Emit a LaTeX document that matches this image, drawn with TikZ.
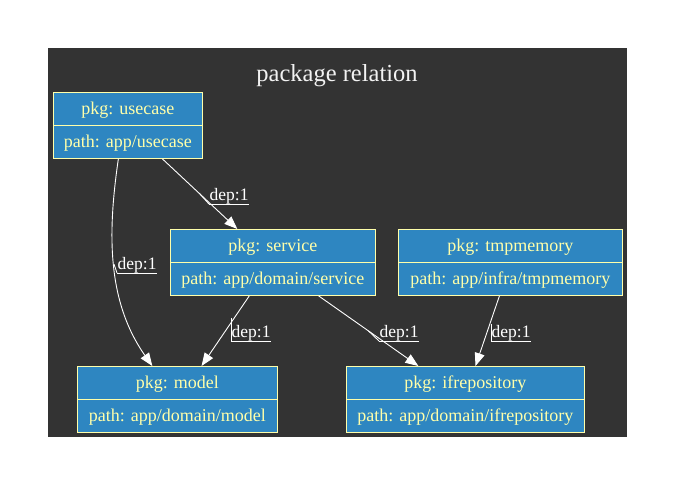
\documentclass[tikz,border=0pt]{standalone}
\usepackage{fontspec}
\setmainfont{Liberation Serif}
\usetikzlibrary{arrows.meta,calc}
\definecolor{bgc}{HTML}{333333}
\definecolor{pkgfill}{HTML}{2E86C1}
\definecolor{pkgline}{HTML}{FFFFAA}
\definecolor{pkgtext}{HTML}{FFFFAA}
\definecolor{titlec}{HTML}{F2F2F2}
\begin{document}
\begin{tikzpicture}[x=1pt,y=-1pt,
  pkgpart/.style={draw=pkgline, fill=pkgfill, line width=0.9pt, text=pkgtext,
    font=\fontsize{18}{20}\selectfont, minimum height=33pt, inner sep=0pt,
    text height=13.5pt, text depth=1.5pt, anchor=north west},
  dep/.style={draw=white, line width=0.9pt, -{Triangle[length=13pt,width=10pt]}},
  lbl/.style={text=white, font=\fontsize{17.5}{20}\selectfont, inner xsep=0.5pt, inner ysep=0pt, anchor=base west},
  uline/.style={draw=white, line width=0.9pt}]
\useasboundingbox (0,0) rectangle (675,485);
\fill[white] (0,0) rectangle (675,485);
\fill[bgc] (48,48) rectangle (627,437);
\node[font=\fontsize{24.5}{28}\selectfont, text=titlec, anchor=base, inner sep=0pt] (title) at (337,81) {package relation};
% packages
\node[pkgpart, minimum width=149pt] (usecase) at (53,92) {pkg: usecase};
\node[pkgpart, minimum width=149pt] (usecaseP) at (53,125) {path: app/usecase};
\node[pkgpart, minimum width=205pt] (service) at (170,229) {pkg: service};
\node[pkgpart, minimum width=205pt] (serviceP) at (170,262) {path: app/domain/service};
\node[pkgpart, minimum width=224pt] (tmpmemory) at (398,229) {pkg: tmpmemory};
\node[pkgpart, minimum width=224pt] (tmpmemoryP) at (398,262) {path: app/infra/tmpmemory};
\node[pkgpart, minimum width=200pt] (model) at (77,366) {pkg: model};
\node[pkgpart, minimum width=200pt] (modelP) at (77,399) {path: app/domain/model};
\node[pkgpart, minimum width=238pt] (ifrepository) at (346,366) {pkg: ifrepository};
\node[pkgpart, minimum width=238pt] (ifrepositoryP) at (346,399) {path: app/domain/ifrepository};
% edges
\draw[dep] ($(usecaseP.south west)!0.73!(usecaseP.south east)$) -- ($(service.north west)!0.327!(service.north east)$) coordinate[pos=0.5] (m1);
\draw[dep] ($(usecaseP.south west)!0.436!(usecaseP.south east)$) .. controls (108,230) and (106,300) .. ($(model.north west)!0.375!(model.north east)$) coordinate[pos=0.5] (m2);
\draw[dep] ($(serviceP.south west)!0.385!(serviceP.south east)$) -- ($(model.north west)!0.62!(model.north east)$) coordinate[pos=0.32] (m3);
\draw[dep] ($(serviceP.south west)!0.722!(serviceP.south east)$) -- ($(ifrepository.north west)!0.303!(ifrepository.north east)$) coordinate[pos=0.5] (m4);
\draw[dep] ($(tmpmemoryP.south west)!0.451!(tmpmemoryP.south east)$) -- ($(ifrepository.north west)!0.542!(ifrepository.north east)$) coordinate[pos=0.4] (m5);
% labels
\node[lbl] (l1) at (209,200) {dep:1};
\node[lbl] (l2) at (117,269) {dep:1};
\node[lbl] (l3) at (231,337) {dep:1};
\node[lbl] (l4) at (379,337) {dep:1};
\node[lbl] (l5) at (491,337) {dep:1};
\coordinate (u1) at ([yshift=-4pt]l1.base west);
\coordinate (u2) at ([yshift=-4pt]l2.base west);
\coordinate (u3) at ([yshift=-4pt]l3.base west);
\coordinate (u4) at ([yshift=-4pt]l4.base west);
\coordinate (u5) at ([yshift=-4pt]l5.base west);
\draw[uline] (u1) -- ([yshift=-4pt]l1.base east);
\draw[uline] (u2) -- ([yshift=-4pt]l2.base east);
\draw[uline] (u3) -- ([yshift=-4pt]l3.base east);
\draw[uline] (u4) -- ([yshift=-4pt]l4.base east);
\draw[uline] (u5) -- ([yshift=-4pt]l5.base east);
\draw[uline] (m1) -- (u1);
\draw[uline] (m2) -- (u2);
\draw[uline] (u3) -- (u3 |- m3);
\draw[uline] (m4) -- (u4);
\draw[uline] (u5) -- (u5 |- m5);
\end{tikzpicture}
\end{document}
